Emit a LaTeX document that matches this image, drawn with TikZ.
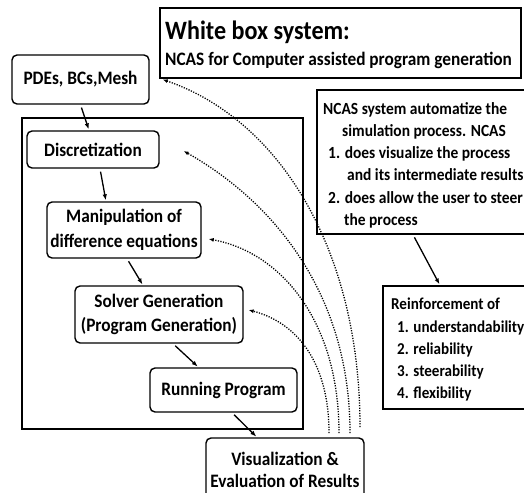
\documentclass[tikz,border=0pt]{standalone}
\usepackage{fontspec}
\setmainfont{Carlito}[FakeStretch=0.91]
\usetikzlibrary{calc,arrows.meta}
\begin{document}
\begin{tikzpicture}[x=1pt,y=-1pt,
  rbox/.style={draw, line width=1.4pt, rounded corners=5pt, align=center, inner sep=0pt,
    font=\fontsize{19}{24.5}\selectfont\bfseries},
  sbox/.style={draw, line width=1.4pt, inner sep=0pt},
  txt/.style={anchor=base west, inner sep=0pt, font=\fontsize{17}{22}\selectfont\bfseries},
  rtxt/.style={anchor=base west, inner sep=0pt, font=\fontsize{16.6}{22}\selectfont\bfseries},
  arr/.style={line width=1.3pt, -{Latex[length=6pt,width=4.5pt]}, shorten <=3pt, shorten >=1pt},
  dotarr/.style={line width=1.3pt, dash pattern=on 1.2pt off 1.4pt, -{Latex[length=5pt,width=4pt]}}
]
\useasboundingbox (0,0) rectangle (524,492);
\clip (0,0) rectangle (524,492);

% frame
\node[sbox, minimum width=281pt, minimum height=311pt] (frame) at (162.5,273.5) {};

% process boxes
\node[rbox, minimum width=137pt, minimum height=49pt] (pdes) at (80.5,79.5) {PDEs, BCs,Mesh};
\node[rbox, minimum width=132pt, minimum height=37pt] (disc) at (93,149.5) {Discretization};
\node[rbox, minimum width=154pt, minimum height=56pt] (manip) at (124,230) {Manipulation of\\difference equations};
\node[rbox, minimum width=168pt, minimum height=57pt] (solver) at (159,314.5) {Solver Generation\\(Program Generation)};
\node[rbox, minimum width=147pt, minimum height=44pt] (run) at (223.5,390) {Running Program};
\node[rbox, minimum width=158pt, minimum height=64pt, font=\fontsize{19}{22.5}\selectfont\bfseries] (vis) at (285,470) {Visualization \&\\Evaluation of Results};

% title box
\node[sbox, minimum width=361pt, minimum height=70pt] (title) at (340.5,43) {};
\node[anchor=base west, inner sep=0pt, font=\fontsize{26.5}{30}\selectfont\bfseries] (t1) at (165,40) {White box system:};
\node[anchor=base west, inner sep=0pt, font=\fontsize{19}{22}\selectfont\bfseries] (t2) at (165,66) {NCAS for Computer assisted program generation};

% NCAS box
\node[sbox, minimum width=213pt, minimum height=144pt] (ncas) at (423.5,162) {};
\node[txt] (n1) at (323,114) {NCAS system automatize the};
\node[txt] (n2) at (342,136) {simulation process. NCAS};
\node[txt] (n3) at (328,158) {1. does visualize the process};
\node[txt] (n4) at (347,180) {and its intermediate results};
\node[txt] (n5) at (328,203) {2. does allow the user to steer};
\node[txt] (n6) at (344,225) {the process};

% Reinforcement box
\node[sbox, minimum width=147pt, minimum height=123pt] (reinf) at (456.5,347.5) {};
\node[rtxt] (r0) at (391,309) {Reinforcement of};
\node[rtxt] (r1) at (397,332) {1. understandability};
\node[rtxt] (r2) at (397,354) {2. reliability};
\node[rtxt] (r3) at (397,376) {3. steerability};
\node[rtxt] (r4) at (397,398) {4. flexibility};

% solid arrows
\draw[arr] (pdes.south) -- ([xshift=-4pt]disc.north);
\draw[arr] ([xshift=7pt]disc.south) -- ([xshift=-18pt]manip.north);
\draw[arr] ([xshift=3pt]manip.south) -- ([xshift=-16pt]solver.north);
\draw[arr] ([xshift=14pt]solver.south) -- ([xshift=-25pt]run.north);
\draw[arr] ([xshift=8.5pt]run.south) -- ([xshift=-28pt]vis.north);
\draw[arr] ([xshift=-10.5pt]ncas.south) -- ([xshift=-16.5pt]reinf.north);

% dotted feedback arrows
\coordinate (s1) at (360,427);
\coordinate (s2) at (350,433);
\coordinate (s3) at (339,433);
\coordinate (s4) at (329,433);
\draw[dotarr] (s1) .. controls (360,250) and (280,120) .. ([xshift=13pt]pdes.east);
\draw[dotarr] (s2) .. controls (350,290) and (270,200) .. ([xshift=24pt,yshift=-1.5pt]disc.east);
\draw[dotarr] (s3) .. controls (339,320) and (280,252) .. ([xshift=7pt,yshift=-9pt]manip.east);
\draw[dotarr] (s4) .. controls (329,360) and (295,322) .. ([xshift=5pt,yshift=4.5pt]solver.east);
\end{tikzpicture}
\end{document}
